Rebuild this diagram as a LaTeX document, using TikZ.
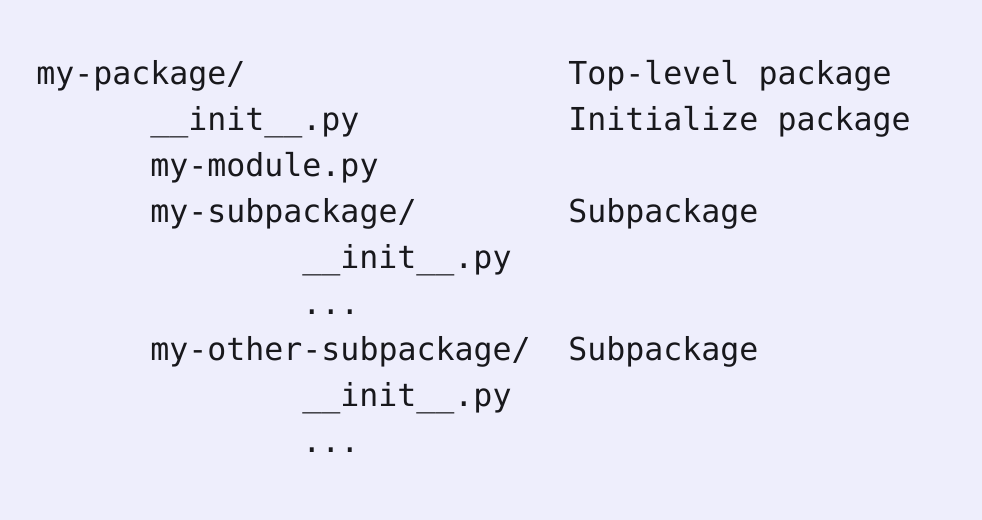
\documentclass[tikz,border=0pt]{standalone}
\usepackage{fontspec}
\setmonofont{DejaVu Sans Mono}
\usepackage{tikz}
\usetikzlibrary{positioning}

\definecolor{bgcol}{RGB}{238,238,252}
\definecolor{txtcol}{RGB}{24,24,28}

\tikzset{
  tree/.style={anchor=base west, inner sep=0pt, text=txtcol,
    font=\ttfamily\fontsize{23.7}{28}\selectfont},
}

\begin{document}
\begin{tikzpicture}[x=0.75pt,y=-0.75pt]
\fill[bgcol] (0,0) rectangle (982,520);
\useasboundingbox (0,0) rectangle (982,520);

% file tree
\node[tree] (pkg)       at (36, 85.0)  {my-package/};
\node[tree] (pkginit)   at (150,130.9) {\_\_init\_\_.py};
\node[tree] (mod)       at (150,176.8) {my-module.py};
\node[tree] (sub)       at (150,222.7) {my-subpackage/};
\node[tree] (subinit)   at (302,268.6) {\_\_init\_\_.py};
\node[tree] (subdots)   at (302,314.5) {...};
\node[tree] (other)     at (150,360.4) {my-other-subpackage/};
\node[tree] (otherinit) at (302,406.3) {\_\_init\_\_.py};
\node[tree] (otherdots) at (302,452.2) {...};

% notes
\node[tree] (pkgnote)   at (568, 85.0)  {Top-level package};
\node[tree] (initnote)  at (568,130.9) {Initialize package};
\node[tree] (subnote)   at (568,222.7) {Subpackage};
\node[tree] (othernote) at (568,360.4) {Subpackage};

\end{tikzpicture}
\end{document}
